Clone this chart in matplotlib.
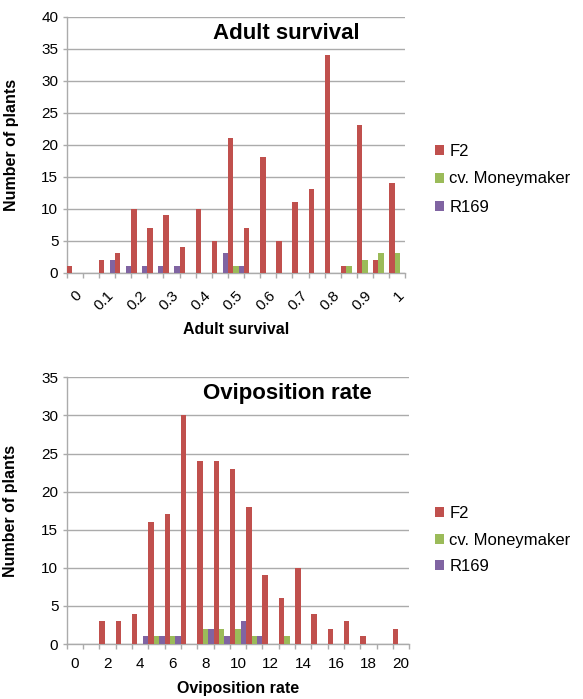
import matplotlib
matplotlib.use('Agg')
import matplotlib.pyplot as plt
import numpy as np

plt.rcParams['font.family'] = ['Liberation Sans', 'DejaVu Sans']

# ---------------- data ----------------
series_names = ['F2', 'cv. Moneymaker', 'R169']
series_colors = ['#C0504D', '#9BBB59', '#8064A2']

surv_tick_labels = ['0', '0.1', '0.2', '0.3', '0.4', '0.5', '0.6', '0.7', '0.8', '0.9', '1']
surv_f2 = [1, 0, 2, 3, 10, 7, 9, 4, 10, 5, 21, 7, 18, 5, 11, 13, 34, 1, 23, 2, 14]
surv_mm = [0, 0, 0, 0, 0, 0, 0, 0, 0, 0, 1, 0, 0, 0, 0, 0, 0, 1, 2, 3, 3]
surv_r169 = [0, 0, 2, 1, 1, 1, 1, 0, 0, 3, 1, 0, 0, 0, 0, 0, 0, 0, 0, 0, 0]

ovi_tick_labels = ['0', '2', '4', '6', '8', '10', '12', '14', '16', '18', '20']
ovi_f2 = [0, 0, 3, 3, 4, 16, 17, 30, 24, 24, 23, 18, 9, 6, 10, 4, 2, 3, 1, 0, 2]
ovi_mm = [0, 0, 0, 0, 0, 1, 1, 0, 2, 2, 2, 1, 0, 1, 0, 0, 0, 0, 0, 0, 0]
ovi_r169 = [0, 0, 0, 0, 1, 1, 1, 0, 2, 1, 3, 1, 0, 0, 0, 0, 0, 0, 0, 0, 0]

GRID = '#ABABAB'
W, H = 583, 699
fig = plt.figure(figsize=(W / 100, H / 100), dpi=100)


def make_axes(px_left, px_right, px_top, px_bottom):
    return fig.add_axes([px_left / W, 1 - px_bottom / H,
                         (px_right - px_left) / W, (px_bottom - px_top) / H])


def draw(ax, series, ymax, tick_labels, rotate, xlabel, title, title_xy, leg_y, lsp):
    n = len(series[0])
    bw = 1 / 3
    x = np.arange(n)
    handles = []
    for k, (vals, col, name) in enumerate(zip(series, series_colors, series_names)):
        h = ax.bar(x + bw * (k + 0.5), vals, width=bw, color=col, label=name,
                   linewidth=0, zorder=3)
        handles.append(h)
    ax.set_xlim(0, n)
    ax.set_ylim(0, ymax)
    ax.set_yticks(np.arange(0, ymax + 1, 5))
    ax.yaxis.grid(True, color=GRID, linewidth=1.0, zorder=0)
    ax.set_axisbelow(True)
    for s in ['top', 'right']:
        ax.spines[s].set_visible(False)
    for s in ['left', 'bottom']:
        ax.spines[s].set_color(GRID)
        ax.spines[s].set_linewidth(1.0)
    ax.tick_params(axis='y', length=3, color=GRID, width=1.0, labelsize=11, pad=3)
    # category boundary ticks
    ax.set_xticks(np.arange(0, n + 1), minor=True)
    ax.tick_params(axis='x', which='minor', length=3.5, color=GRID, width=1.0)
    major_pos = np.arange(0, n, 2) + 0.5
    ax.set_xticks(major_pos)
    if rotate:
        ax.set_xticklabels(tick_labels, rotation=45, ha='right', va='top',
                           rotation_mode='anchor', fontsize=11)
        ax.tick_params(axis='x', which='major', length=0, pad=11)
    else:
        ax.set_xticklabels(tick_labels, fontsize=11)
        ax.tick_params(axis='x', which='major', length=0, pad=9)
    ax.set_ylabel('Number of plants', fontsize=11.5, fontweight='bold')
    ax.yaxis.set_label_coords(-0.142, 0.5)
    ax.set_xlabel(xlabel, fontsize=11.5, fontweight='bold')
    fig.text(title_xy[0] / W, 1 - title_xy[1] / H, title, fontsize=16,
             fontweight='bold', ha='center', va='baseline')
    fig.legend(handles=handles, loc='center left',
               bbox_to_anchor=(435 / W, 1 - leg_y / H), frameon=False,
               fontsize=12, handlelength=0.55, handleheight=0.55,
               handletextpad=0.3, labelspacing=lsp, borderpad=0, borderaxespad=0)


ax1 = make_axes(66.7, 405.3, 16.7, 272.7)
draw(ax1, [surv_f2, surv_mm, surv_r169], 40, surv_tick_labels, True,
     'Adult survival', 'Adult survival', (286, 39.3), 179, 0.78)
ax1.xaxis.set_label_coords(0.5, -0.22)
ax1.xaxis.label.set_va('center')

ax2 = make_axes(66.7, 409.3, 377.3, 644)
draw(ax2, [ovi_f2, ovi_mm, ovi_r169], 35, ovi_tick_labels, False,
     'Oviposition rate', 'Oviposition rate', (287.5, 399.3), 540, 0.68)
ax2.xaxis.set_label_coords(0.5, -0.165)
ax2.xaxis.label.set_va('center')

fig.savefig('out.png', dpi=100)
